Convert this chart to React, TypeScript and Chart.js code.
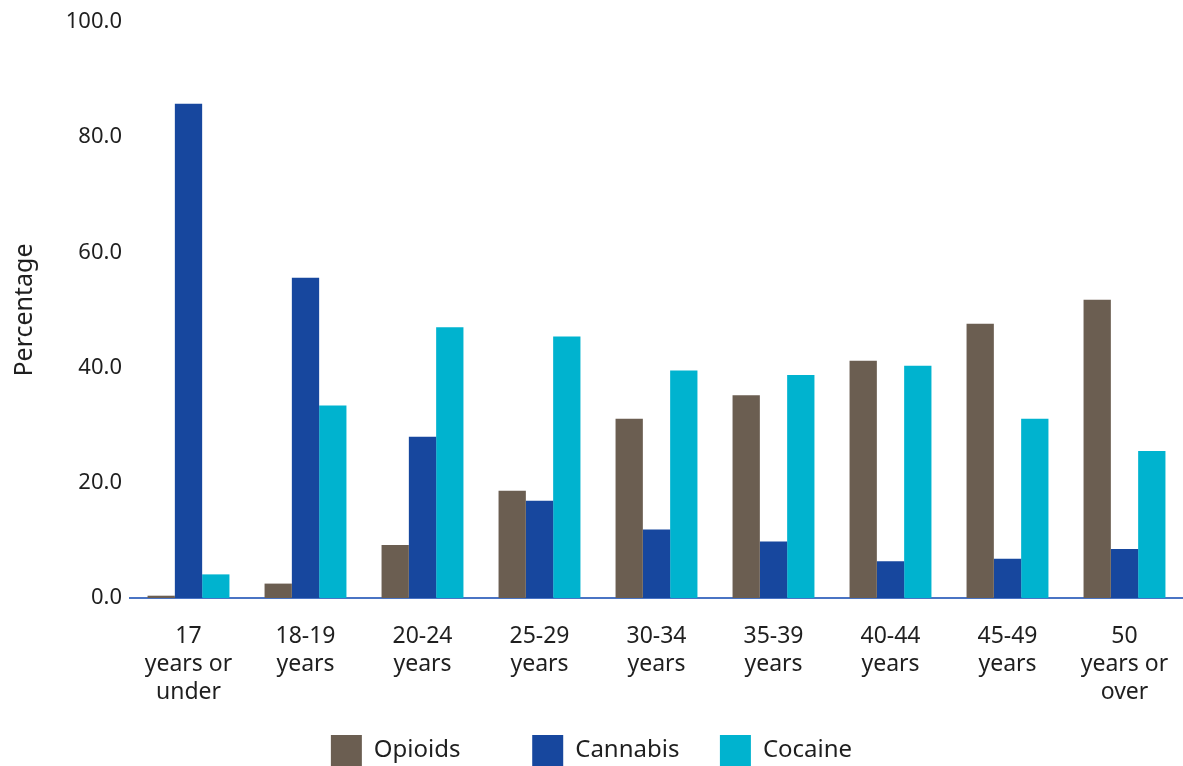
import React, { useEffect, useRef } from "react";
import { Chart, registerables } from "chart.js";

Chart.register(...registerables);

const categories: string[][] = [
  ["17", "years or", "under"],
  ["18-19", "years"],
  ["20-24", "years"],
  ["25-29", "years"],
  ["30-34", "years"],
  ["35-39", "years"],
  ["40-44", "years"],
  ["45-49", "years"],
  ["50", "years or", "over"],
];

const seriesNames = ["Opioids", "Cannabis", "Cocaine"];
const opioids = [0.4, 2.5, 9.2, 18.6, 31.1, 35.2, 41.2, 47.6, 51.8];
const cannabis = [85.8, 55.6, 28.0, 16.9, 11.9, 9.8, 6.4, 6.8, 8.5];
const cocaine = [4.1, 33.4, 47.0, 45.4, 39.5, 38.7, 40.3, 31.1, 25.5];

const yTicks = [0, 20, 40, 60, 80, 100];

const FONT = "'Noto Sans', sans-serif";
const TEXT = "#1f1f1f";
// extra trailing space after legend items to reproduce the reference spacing
const legendTrail = [7, 2, 0];

export default function App() {
  const ref = useRef<HTMLCanvasElement | null>(null);

  useEffect(() => {
    if (!ref.current) return;
    const defaultGen = Chart.defaults.plugins.legend.labels.generateLabels;
    const chart = new Chart(ref.current, {
      type: "bar",
      data: {
        labels: categories,
        datasets: [
          { label: seriesNames[0], data: opioids, backgroundColor: "#6B5E51" },
          { label: seriesNames[1], data: cannabis, backgroundColor: "#17479E" },
          { label: seriesNames[2], data: cocaine, backgroundColor: "#00B3CF" },
        ],
      },
      options: {
        animation: false,
        responsive: true,
        maintainAspectRatio: false,
        layout: { padding: { top: 22, right: 0, bottom: -10, left: 0 } },
        datasets: { bar: { categoryPercentage: 0.7, barPercentage: 1.0 } },
        plugins: {
          tooltip: { enabled: false },
          legend: {
            position: "bottom",
            labels: {
              boxWidth: 31,
              boxHeight: 31,
              padding: 28,
              color: TEXT,
              font: { family: FONT, size: 24 },
              generateLabels: (c: any) =>
                defaultGen(c).map((item: any, i: number) => ({
                  ...item,
                  lineWidth: 0,
                  text: item.text + " ".repeat(legendTrail[i] || 0),
                })),
            },
          },
        },
        scales: {
          x: {
            afterFit: (scale: any) => {
              scale.height = 109;
              scale.paddingLeft = 0;
              scale.paddingRight = 0;
            },
            grid: { display: false, drawTicks: false },
            border: { display: true, color: "#4a74c4", width: 2 },
            ticks: {
              color: TEXT,
              font: { family: FONT, size: 23, lineHeight: 1.2 },
              padding: 25,
              maxRotation: 0,
              autoSkip: false,
            },
          },
          y: {
            min: 0,
            max: 100,
            afterFit: (scale: any) => {
              scale.width = 130;
            },
            afterBuildTicks: (axis: any) => {
              axis.ticks = yTicks.map((v) => ({ value: v }));
            },
            grid: { display: false, drawTicks: false },
            border: { display: false },
            ticks: {
              color: TEXT,
              font: { family: FONT, size: 22 },
              padding: 8,
              callback: (v: any) => Number(v).toFixed(1),
            },
            title: {
              display: true,
              text: "Percentage",
              color: TEXT,
              font: { family: FONT, size: 25 },
              padding: { top: 10, bottom: 20 },
            },
          },
        },
      },
    });
    return () => chart.destroy();
  }, []);

  return (
    <div style={{ position: "fixed", left: 0, top: 0, width: 1183, height: 766, background: "#fff" }}>
      <canvas ref={ref} />
    </div>
  );
}
